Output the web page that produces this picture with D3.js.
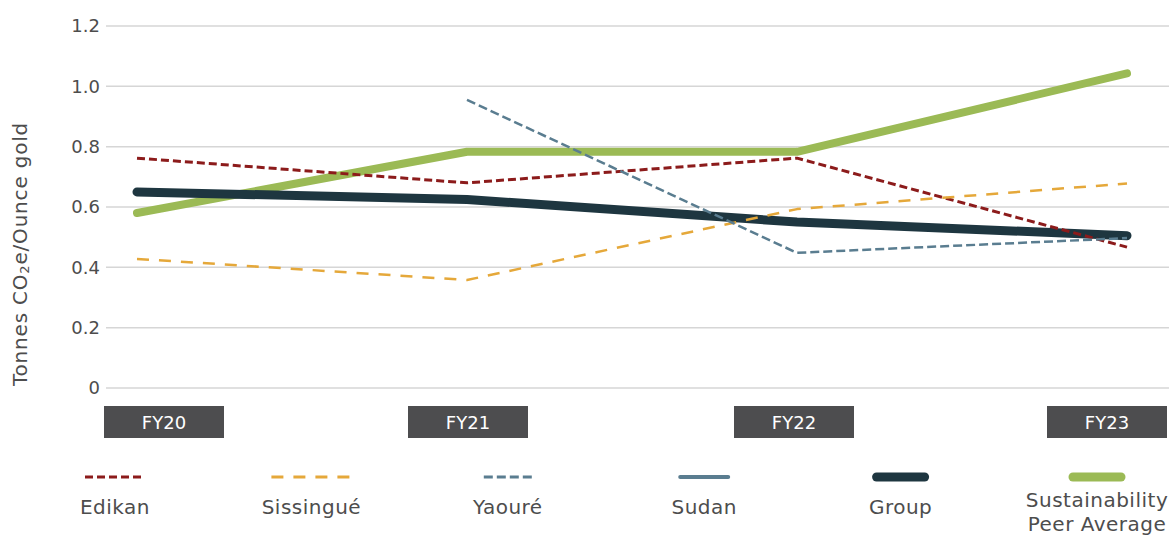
<!DOCTYPE html>
<html>
<head>
<meta charset="utf-8">
<script src="https://cdn.jsdelivr.net/npm/d3@7"></script>
<style>
  body { margin: 0; background: #fff; }
  svg text { font-family: "DejaVu Sans", sans-serif; fill: #4d4d4d; }
</style>
</head>
<body>
<svg width="1169" height="536"></svg>
<script>
'use strict';

// Data
var years = ['FY20', 'FY21', 'FY22', 'FY23'];
var yTicks = [0, 0.2, 0.4, 0.6, 0.8, 1.0, 1.2];

var edikan = [0.762, 0.68, 0.762, 0.467];
var sissingue = [0.428, 0.358, 0.593, 0.678];
var yaoure = [null, 0.955, 0.448, 0.497];
var sudan = [null, null, null, null];
var group = [0.65, 0.625, 0.55, 0.505];
var peerAvg = [0.58, 0.783, 0.783, 1.043];

var seriesNames = ['Edikan', 'Sissingué', 'Yaouré', 'Sudan', 'Group', 'Sustainability Peer Average'];

var styles = {
  'Edikan': { color: '#8c1b1b', width: 3, dash: '8,4', cap: 'butt' },
  'Sissingué': { color: '#e5a83a', width: 2.5, dash: '12,10', cap: 'butt' },
  'Yaouré': { color: '#5a7d90', width: 2.5, dash: '9,4', cap: 'butt' },
  'Sudan': { color: '#5a7d90', width: 4, dash: null, cap: 'round' },
  'Group': { color: '#1e3640', width: 9, dash: null, cap: 'round' },
  'Sustainability Peer Average': { color: '#9bba55', width: 8, dash: null, cap: 'round' }
};

var seriesData = {
  'Edikan': edikan,
  'Sissingué': sissingue,
  'Yaouré': yaoure,
  'Sudan': sudan,
  'Group': group,
  'Sustainability Peer Average': peerAvg
};

var svg = d3.select('svg');

//Scales
var x = d3.scalePoint().domain(years).range([137, 1127]);
var y = d3.scaleLinear().domain([0, 1.2]).range([388, 26]);

//Gridlines
svg.append('g').selectAll('line').data(yTicks).enter().append('line')
  .attr('x1', 106).attr('x2', 1169)
  .attr('y1', function (d) { return y(d); })
  .attr('y2', function (d) { return y(d); })
  .attr('stroke', '#d6d6d6').attr('stroke-width', 1.5);

//Y axis
var yAxis = d3.axisLeft(y).tickValues(yTicks).tickSize(0).tickPadding(0)
  .tickFormat(function (d) { return d === 0 ? '0' : d3.format('.1f')(d); });
var yg = svg.append('g').attr('transform', 'translate(100,0)').call(yAxis);
yg.select('.domain').remove();
yg.selectAll('text').attr('font-size', 18).attr('fill', '#4d4d4d')
  .style('font-family', '"DejaVu Sans", sans-serif');

//Y title
svg.append('text')
  .attr('transform', 'translate(27,254) rotate(-90)')
  .attr('text-anchor', 'middle')
  .attr('font-size', 20)
  .attr('letter-spacing', 0.8)
  .html('Tonnes CO<tspan font-size="13" dy="2">2</tspan><tspan dy="-2">e/Ounce gold</tspan>');

//Category boxes
var boxCenters = { 'FY20': 164, 'FY21': 468, 'FY22': 794, 'FY23': 1107 };
var boxes = svg.append('g').selectAll('g').data(years).enter().append('g')
  .attr('transform', function (d) { return 'translate(' + (boxCenters[d] - 60) + ',406)'; });
boxes.append('rect').attr('width', 120).attr('height', 32).attr('fill', '#4d4d4f');
boxes.append('text').attr('x', 60).attr('y', 23).attr('text-anchor', 'middle')
  .attr('font-size', 18).style('fill', '#fff').text(function (d) { return d; });

//Lines
var line = d3.line()
  .defined(function (d) { return d.v !== null; })
  .x(function (d) { return x(d.year); })
  .y(function (d) { return y(d.v); });

var drawOrder = ['Sustainability Peer Average', 'Group', 'Edikan', 'Sissingué', 'Yaouré', 'Sudan'];
drawOrder.forEach(function (name) {
  var s = styles[name];
  var pts = seriesData[name].map(function (v, i) { return { year: years[i], v: v }; });
  if (pts.filter(function (p) { return p.v !== null; }).length < 2) return;
  svg.append('path').datum(pts)
    .attr('d', line)
    .attr('fill', 'none')
    .attr('stroke', s.color)
    .attr('stroke-width', s.width)
    .attr('stroke-dasharray', s.dash)
    .attr('stroke-linecap', s.cap)
    .attr('stroke-linejoin', 'round');
});

//Legend
var lx = d3.scalePoint().domain(seriesNames).range([115, 1097]);
var legend = svg.append('g').selectAll('g').data(seriesNames).enter().append('g')
  .attr('transform', function (d) { return 'translate(' + lx(d) + ',0)'; });

legend.append('line')
  .attr('x1', function (d) { return d === 'Sissingué' ? -40 : (d === 'Edikan' ? -30 : -24); })
  .attr('x2', function (d) { return d === 'Sissingué' ? 40 : (d === 'Edikan' ? 30 : 24); })
  .attr('y1', 477).attr('y2', 477)
  .attr('stroke', function (d) { return styles[d].color; })
  .attr('stroke-width', function (d) { return d === 'Group' || d === 'Sustainability Peer Average' ? 9 : (d === 'Sudan' ? 4 : 3); })
  .attr('stroke-dasharray', function (d) { return styles[d].dash; })
  .attr('stroke-linecap', function (d) { return styles[d].cap; });

legend.append('text')
  .attr('text-anchor', 'middle')
  .attr('font-size', 20)
  .attr('letter-spacing', 0.5)
  .each(function (d) {
    var t = d3.select(this);
    if (d === 'Sustainability Peer Average') {
      t.append('tspan').attr('x', 0).attr('y', 507).text('Sustainability');
      t.append('tspan').attr('x', 0).attr('y', 531).text('Peer Average');
    } else {
      t.attr('y', 514).text(d);
    }
  });
</script>
</body>
</html>
